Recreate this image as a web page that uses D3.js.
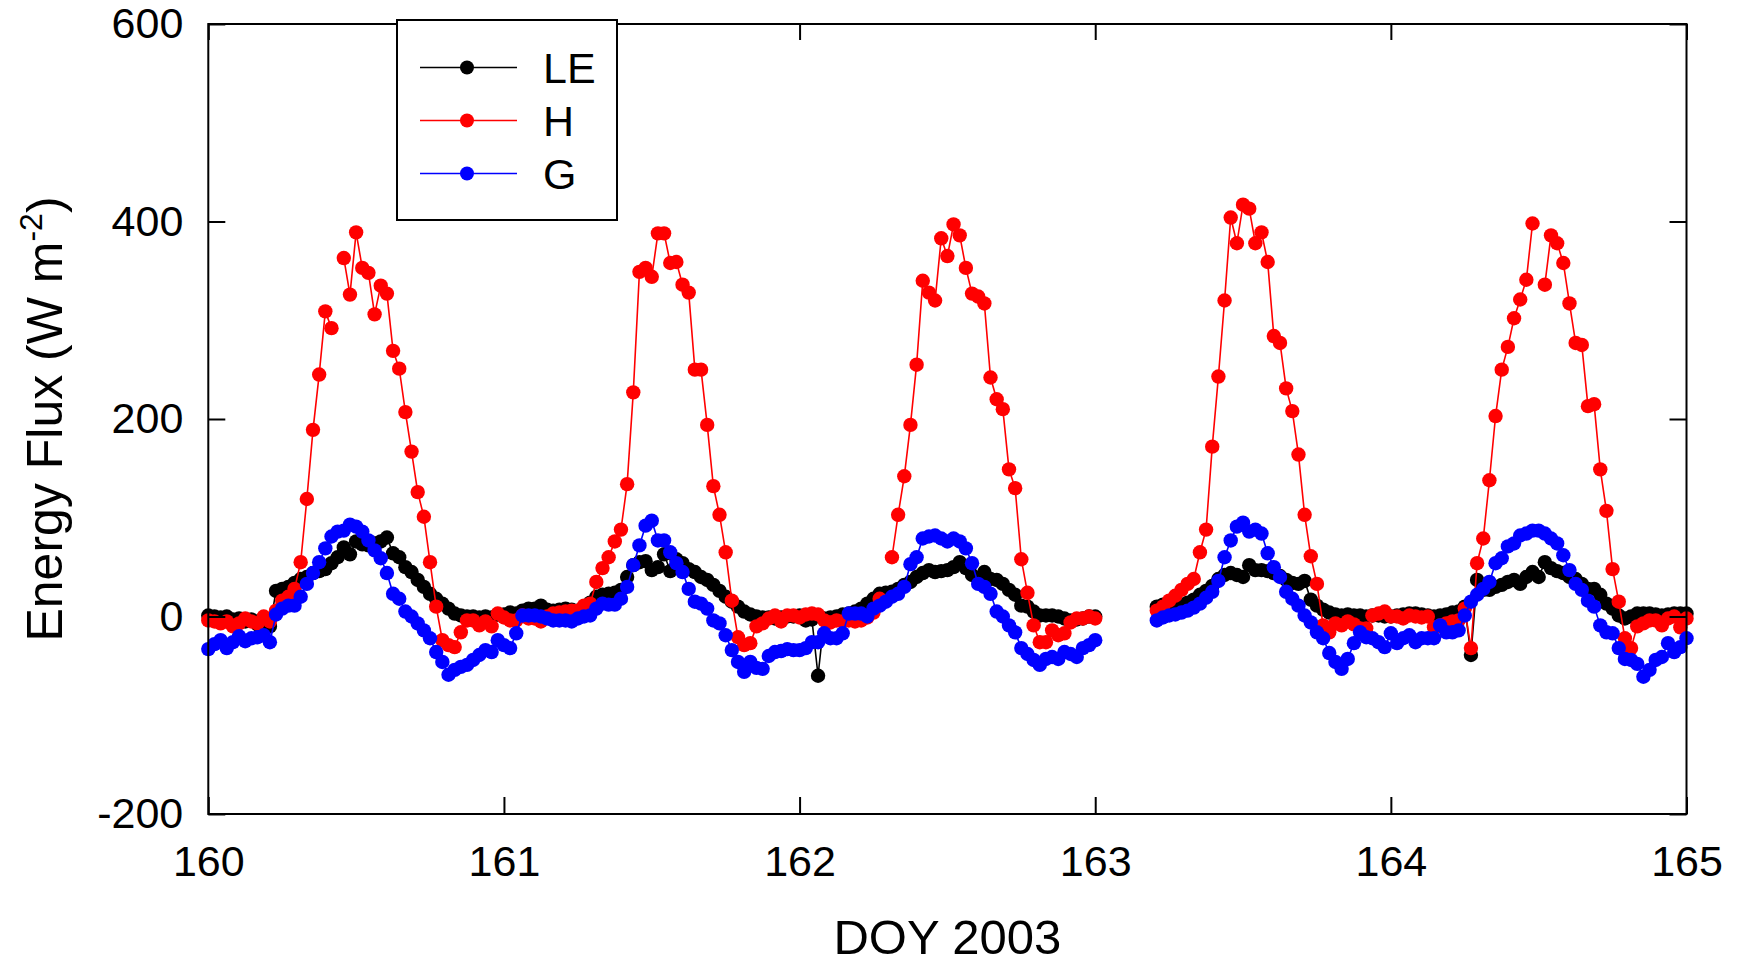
<!DOCTYPE html>
<html>
<head>
<meta charset="utf-8">
<script src="https://cdn.jsdelivr.net/npm/d3@7"></script>
<style>
  html, body { margin: 0; padding: 0; background: #fff; }
  svg { display: block; font-family: "Liberation Sans", Arial, sans-serif; }
</style>
</head>
<body>
<div id="root"></div>
<script>
const width = 1741,
      height = 963

// half-hourly values, one array per day and series (null = no data)
const stepsPerDay = 48
const dayStarts = [160, 161, 162, 163, 164]

const le160 = [1, 0, -1, 0, -3, -2, -5, -3, -8, -10, -10, 26, 28, 30, 34, 38, 40, 44, 46, 48, 54, 60, 70, 63, 76, 73, 72, 74, 76, 80, 64, 60, 50, 45, 37, 30, 23, 18, 13, 8, 3, 1, 0, 0, -1, 0, -1, 2]
const le161 = [2, 4, 3, 6, 8, 8, 11, 7, 6, 7, 8, 7, 6, 7, 14, 20, 22, 23, 24, 27, 40, 52, 55, 56, 47, 50, 63, 46, 58, 54, 48, 45, 40, 37, 32, 26, 20, 15, 10, 5, 2, 0, -1, -1, -2, -1, 0, 0]
const le162 = [1, -4, -3, -60, -2, -1, 0, 2, 3, 5, 8, 13, 18, 23, 24, 25, 28, 32, 35, 40, 44, 47, 45, 46, 47, 50, 55, 49, 42, 38, 45, 38, 37, 33, 27, 22, 11, 10, 5, 1, 1, 1, 0, -2, -4, -3, -2, 0]
const le163 = [0, null, null, null, null, null, null, null, null, null, 10, 12, 12, 11, 12, 14, 17, 22, 26, 31, 38, 42, 44, 42, 40, 52, 47, 47, 46, 44, 41, 37, 34, 33, 36, 17, 11, 7, 4, 2, 1, 2, 1, 1, 0, 1, 1, 0]
const le164 = [0, 1, 2, 3, 3, 2, 1, 0, 1, 2, 4, 5, 10, -39, 37, 27, 27, 30, 32, 35, 37, 33, 40, 45, 40, 55, 49, 46, 44, 40, 38, 33, 28, 28, 22, 13, 8, 1, -2, 0, 3, 3, 3, 2, 1, 2, 3, 3, 3]

const h160 = [-4, -5, -7, -5, -10, -7, -2, -5, -7, 0, -5, 6, 16, 20, 28, 55, 119, 189, 245, 309, 292, null, 363, 326, 389, 353, 348, 306, 335, 327, 269, 251, 207, 167, 126, 101, 55, 10, -24, -29, -31, -16, -4, -4, -9, -5, -10, 3]
const h161 = [-1, -4, -4, 1, -2, -2, -5, 0, 3, 4, 5, 6, 6, 11, 13, 35, 49, 60, 76, 88, 134, 227, 349, 353, 344, 388, 388, 358, 359, 336, 328, 250, 250, 194, 132, 103, 65, 16, -21, -29, -27, -10, -7, -2, 1, -5, 1, 1]
const h162 = [-1, 2, 3, 2, -4, -6, -4, -5, -4, -5, -4, -1, 4, 18, null, 60, 103, 142, 194, 255, 340, 328, 320, 383, 365, 397, 386, 353, 327, 324, 317, 242, 220, 210, 149, 130, 58, 24, -9, -26, -26, -14, -19, -17, -6, -2, -2, 0]
const h163 = [-2, null, null, null, null, null, null, null, null, null, 6, 10, 16, 21, 27, 33, 38, 65, 88, 172, 243, 320, 404, 378, 417, 413, 378, 389, 359, 284, 277, 231, 208, 164, 103, 61, 33, -9, -16, -7, -9, -5, -8, -12, -12, 1, 3, 5]
const h164 = [0, 0, -2, 1, 0, -1, 0, -11, -9, -7, -5, -4, 8, -32, 54, 79, 138, 203, 250, 273, 302, 321, 341, 398, null, 336, 386, 378, 358, 317, 277, 275, 213, 215, 149, 107, 48, 15, -22, -32, -10, -7, -4, -4, -9, -2, 0, -11, -2]

const g160 = [-33, -28, -24, -32, -26, -20, -25, -22, -21, -19, -26, 2, 8, 11, 11, 20, 33, 44, 55, 69, 81, 86, 87, 93, 91, 86, 77, 67, 59, 44, 23, 18, 5, 0, -7, -14, -22, -36, -46, -59, -54, -51, -49, -44, -39, -34, -36, -24]
const g161 = [-29, -32, -17, 1, 1, 1, 0, -2, -4, -4, -4, -5, -2, 0, 1, 8, 13, 12, 12, 18, 30, 52, 72, 92, 97, 77, 77, 65, 54, 45, 28, 15, 13, 8, -4, -7, -19, -34, -46, -56, -46, -52, -53, -40, -36, -35, -33, -34]
const g162 = [-34, -32, -26, -26, -17, -22, -22, -17, 3, 3, 3, 0, 8, 11, 15, 20, 23, 30, 53, 60, 79, 81, 82, 79, 76, 79, 76, 69, 54, 33, 30, 23, 5, 0, -9, -16, -32, -38, -44, -49, -43, -41, -43, -36, -38, -41, -32, -29]
const g163 = [-24, null, null, null, null, null, null, null, null, null, -4, -1, 1, 2, 4, 6, 9, 13, 19, 25, 36, 60, 77, 91, 95, 86, 88, 84, 64, 50, 40, 25, 18, 11, 1, -6, -16, -22, -37, -46, -53, -43, -27, -16, -21, -22, -26, -31]
const g164 = [-17, -27, -22, -19, -26, -22, -22, -22, -9, -16, -16, -14, 1, 15, 22, 28, 35, 54, 59, 71, 74, 82, 84, 87, 87, 84, 79, 74, 62, 47, 33, 27, 16, 10, -9, -16, -17, -32, -43, -44, -48, -61, -54, -44, -41, -27, -36, -31, -22]

const xTicks = [160, 161, 162, 163, 164, 165]
const yTicks = [-200, 0, 200, 400, 600]

const series = [
	{ name: 'LE', color: '#000000', days: [le160, le161, le162, le163, le164] },
	{ name: 'H', color: '#ff0000', days: [h160, h161, h162, h163, h164] },
	{ name: 'G', color: '#0000ff', days: [g160, g161, g162, g163, g164] }
]

const toPoints = days => {
	const pts = []
	days.forEach((vals, d) => {
		vals.forEach((v, i) => pts.push({ t: dayStarts[d] + i / stepsPerDay, v: v }))
	})
	return pts
}

const markerR = 7.2

const xScale = d3.scaleLinear().domain([160, 165]).range([208.3, 1686.5])
const yScale = d3.scaleLinear().domain([-200, 600]).range([814, 24])

const svg = d3.select('#root')
			.append('svg')
			.attr('width', width)
			.attr('height', height)

svg.append('rect').attr('width', width).attr('height', height).attr('fill', '#fff')

const line = d3.line()
			.defined(d => d.v !== null)
			.x(d => xScale(d.t))
			.y(d => yScale(d.v))

series.forEach(s => {
	const pts = toPoints(s.days)
	const g = svg.append('g').attr('class', 'series')
	g.append('path')
		.datum(pts)
		.attr('d', line)
		.attr('fill', 'none')
		.attr('stroke', s.color)
		.attr('stroke-width', 1.6)
	g.selectAll('circle')
		.data(pts.filter(d => d.v !== null))
		.enter().append('circle')
		.attr('cx', d => xScale(d.t))
		.attr('cy', d => yScale(d.v))
		.attr('r', markerR)
		.attr('fill', s.color)
})

// axes: ticks point inward on all four sides
const styleAxis = (g, showText) => {
	g.select('.domain').remove()
	g.selectAll('.tick line').attr('stroke', '#000').attr('stroke-width', 2)
	g.selectAll('.tick text')
		.attr('fill', '#000')
		.style('font-size', '43px')
		.style('font-family', '"Liberation Sans", Arial, sans-serif')
	if (!showText) g.selectAll('.tick text').remove()
}

const plainNum = d => String(d)

svg.append('g')
	.attr('transform', `translate(0, ${yScale(-200)})`)
	.call(d3.axisBottom(xScale).tickValues(xTicks).tickFormat(plainNum).tickSizeInner(-17).tickSizeOuter(0).tickPadding(31))
	.call(g => styleAxis(g, true))

svg.append('g')
	.attr('transform', `translate(0, ${yScale(600)})`)
	.call(d3.axisTop(xScale).tickValues(xTicks).tickSizeInner(-16).tickSizeOuter(0))
	.call(g => styleAxis(g, false))

svg.append('g')
	.attr('transform', `translate(${xScale(160)}, 0)`)
	.call(d3.axisLeft(yScale).tickValues(yTicks).tickFormat(plainNum).tickSizeInner(-17).tickSizeOuter(0).tickPadding(25))
	.call(g => styleAxis(g, true))

svg.append('g')
	.attr('transform', `translate(${xScale(165)}, 0)`)
	.call(d3.axisRight(yScale).tickValues(yTicks).tickSizeInner(-17).tickSizeOuter(0))
	.call(g => styleAxis(g, false))

svg.append('rect')
	.attr('x', xScale(160))
	.attr('y', yScale(600))
	.attr('width', xScale(165) - xScale(160))
	.attr('height', yScale(-200) - yScale(600))
	.attr('fill', 'none')
	.attr('stroke', '#000')
	.attr('stroke-width', 2)

// axis titles
svg.append('text')
	.attr('x', (xScale(160) + xScale(165)) / 2)
	.attr('y', 954)
	.attr('text-anchor', 'middle')
	.style('font-size', '49px')
	.text('DOY 2003')

const yTitle = svg.append('text')
	.attr('transform', `translate(62, ${(yScale(600) + yScale(-200)) / 2}) rotate(-90)`)
	.attr('text-anchor', 'middle')
	.style('font-size', '50px')
yTitle.append('tspan').text('Energy Flux (W m')
yTitle.append('tspan').attr('dy', -20).style('font-size', '32px').text('-2')
yTitle.append('tspan').attr('dy', 20).text(')')

// legend
const legend = svg.append('g').attr('class', 'legend')
legend.append('rect')
	.attr('x', 397).attr('y', 20)
	.attr('width', 220).attr('height', 200)
	.attr('fill', '#fff')
	.attr('stroke', '#000')
	.attr('stroke-width', 2)

const rows = legend.selectAll('g.row')
			.data(series)
			.enter().append('g')
			.attr('class', 'row')
			.attr('transform', (d, i) => `translate(0, ${67.5 + i * 53})`)
rows.append('line')
	.attr('x1', 420).attr('x2', 517)
	.attr('stroke', d => d.color)
	.attr('stroke-width', 1.6)
rows.append('circle')
	.attr('cx', 467)
	.attr('r', markerR - 0.2)
	.attr('fill', d => d.color)
rows.append('text')
	.attr('x', 543)
	.attr('y', 15)
	.style('font-size', '43px')
	.text(d => d.name)
</script>
</body>
</html>
